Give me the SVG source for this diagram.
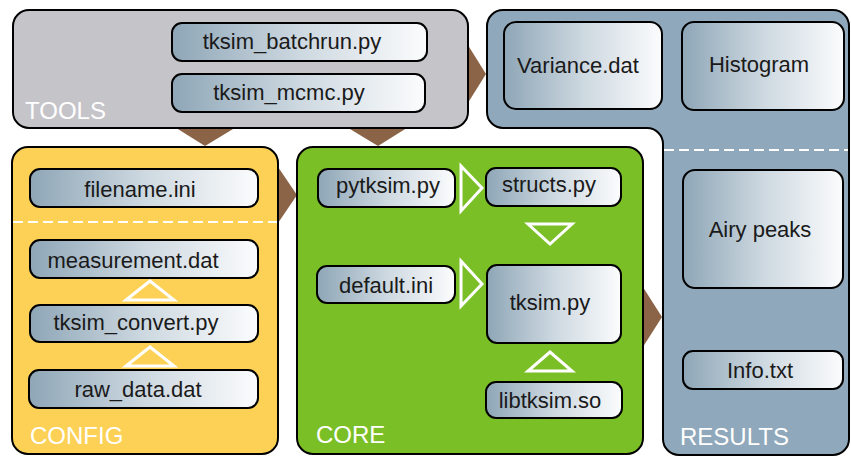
<svg xmlns="http://www.w3.org/2000/svg" width="851" height="456" viewBox="0 0 851 456">
  <defs>
    <linearGradient id="fileFill" x1="0" y1="0" x2="1" y2="0">
      <stop offset="0" stop-color="#8ea6b7"/>
      <stop offset="0.5" stop-color="#cdd8e0"/>
      <stop offset="1" stop-color="#fbfcfd"/>
    </linearGradient>
    <style>
      .panel { stroke: #000; stroke-width: 2; }
      .tools { fill: #c5c4c9; }
      .config { fill: #fcd155; }
      .core { fill: #7bbf26; }
      .results { fill: #8fa8bb; }
      .file { fill: url(#fileFill); stroke: #000; stroke-width: 2; }
      .name { font-family: "Liberation Sans", Arial, sans-serif; font-size: 22px; fill: #1a1a1a; text-anchor: middle; }
      .label { font-family: "Liberation Sans", Arial, sans-serif; font-size: 24px; fill: #fff; }
      .flow { fill: #8b6447; }
      .step { fill: none; stroke: #fff; stroke-width: 3; stroke-linejoin: miter; }
      .divider { stroke: #fff; stroke-width: 2; stroke-dasharray: 10 5; }
    </style>
  </defs>

  <!-- data flow between the panels (drawn beneath the panels) and steps inside them -->
  <g id="connectors">
    <polygon class="flow" points="173,126 238,126 205,146"/>
    <polygon class="flow" points="345,126 410,126 378,146"/>
    <polygon class="flow" points="466,42 486,74 466,106"/>
    <polygon class="flow" points="276,164 297,195 276,226"/>
    <polygon class="flow" points="641,284 662,317 641,350"/>
  </g>

  <!-- panels -->
  <g id="tools">
    <rect class="panel tools" x="13" y="10" width="455" height="118" rx="16"/>
    <text class="label" x="25" y="119">TOOLS</text>
  </g>
  <g id="config">
    <rect class="panel config" x="12" y="147" width="266" height="307" rx="16"/>
    <line class="divider" x1="13" y1="222" x2="277" y2="222"/>
    <text class="label" x="30" y="444">CONFIG</text>
  </g>
  <g id="core">
    <rect class="panel core" x="297" y="147" width="346" height="307" rx="16"/>
    <text class="label" x="316" y="443">CORE</text>
  </g>
  <g id="results">
    <path class="panel results" d="M503,10 H833 A16,16 0 0 1 849,26 V439 A16,16 0 0 1 833,455 H679 A16,16 0 0 1 663,439 V144 A16,16 0 0 0 647,128 H503 A16,16 0 0 1 487,112 V26 A16,16 0 0 1 503,10 Z"/>
    <line class="divider" x1="664" y1="150" x2="848" y2="150"/>
    <text class="label" x="680" y="445">RESULTS</text>
  </g>

  <!-- step markers inside the panels -->
  <g id="steps">
    <polygon class="step" points="126,300 150,281 174,300"/>
    <polygon class="step" points="126,366 150,347 174,366"/>
    <polygon class="step" points="461,166 482,188 461,211"/>
    <polygon class="step" points="461,261 482,284 461,306"/>
    <polygon class="step" points="528,224 572,224 550,244"/>
    <polygon class="step" points="528,371 572,371 550,352"/>
  </g>

  <!-- files -->
  <g id="tksim_batchrun">
    <rect class="file" x="172" y="23" width="255" height="38" rx="10"/>
    <text class="name" x="292" y="49">tksim_batchrun.py</text>
  </g>
  <g id="tksim_mcmc">
    <rect class="file" x="172" y="74" width="253" height="38" rx="10"/>
    <text class="name" x="289" y="100">tksim_mcmc.py</text>
  </g>
  <g id="variance_dat">
    <rect class="file" x="504" y="22" width="158" height="87" rx="12"/>
    <text class="name" x="578" y="73">Variance.dat</text>
  </g>
  <g id="histogram">
    <rect class="file" x="682" y="22" width="162" height="88" rx="12"/>
    <text class="name" x="759" y="72">Histogram</text>
  </g>
  <g id="filename_ini">
    <rect class="file" x="30" y="169" width="228" height="38" rx="10"/>
    <text class="name" x="140" y="197">filename.ini</text>
  </g>
  <g id="measurement_dat">
    <rect class="file" x="30" y="240" width="228" height="38" rx="10"/>
    <text class="name" x="133" y="268">measurement.dat</text>
  </g>
  <g id="tksim_convert">
    <rect class="file" x="30" y="305" width="228" height="37" rx="10"/>
    <text class="name" x="136" y="330">tksim_convert.py</text>
  </g>
  <g id="raw_data_dat">
    <rect class="file" x="29" y="370" width="229" height="38" rx="10"/>
    <text class="name" x="138" y="397">raw_data.dat</text>
  </g>
  <g id="pytksim">
    <rect class="file" x="318" y="169" width="137" height="38" rx="10"/>
    <text class="name" x="388" y="193">pytksim.py</text>
  </g>
  <g id="structs">
    <rect class="file" x="486" y="168" width="135" height="38" rx="10"/>
    <text class="name" x="549" y="192">structs.py</text>
  </g>
  <g id="default_ini">
    <rect class="file" x="317" y="266" width="138" height="37" rx="10"/>
    <text class="name" x="386" y="293">default.ini</text>
  </g>
  <g id="tksim">
    <rect class="file" x="487" y="265" width="134" height="78" rx="10"/>
    <text class="name" x="550" y="310">tksim.py</text>
  </g>
  <g id="libtksim">
    <rect class="file" x="486" y="382" width="136" height="36" rx="10"/>
    <text class="name" x="550" y="408">libtksim.so</text>
  </g>
  <g id="airy_peaks">
    <rect class="file" x="683" y="170" width="160" height="118" rx="12"/>
    <text class="name" x="760" y="237">Airy peaks</text>
  </g>
  <g id="info_txt">
    <rect class="file" x="683" y="351" width="160" height="38" rx="10"/>
    <text class="name" x="760" y="378">Info.txt</text>
  </g>
</svg>
